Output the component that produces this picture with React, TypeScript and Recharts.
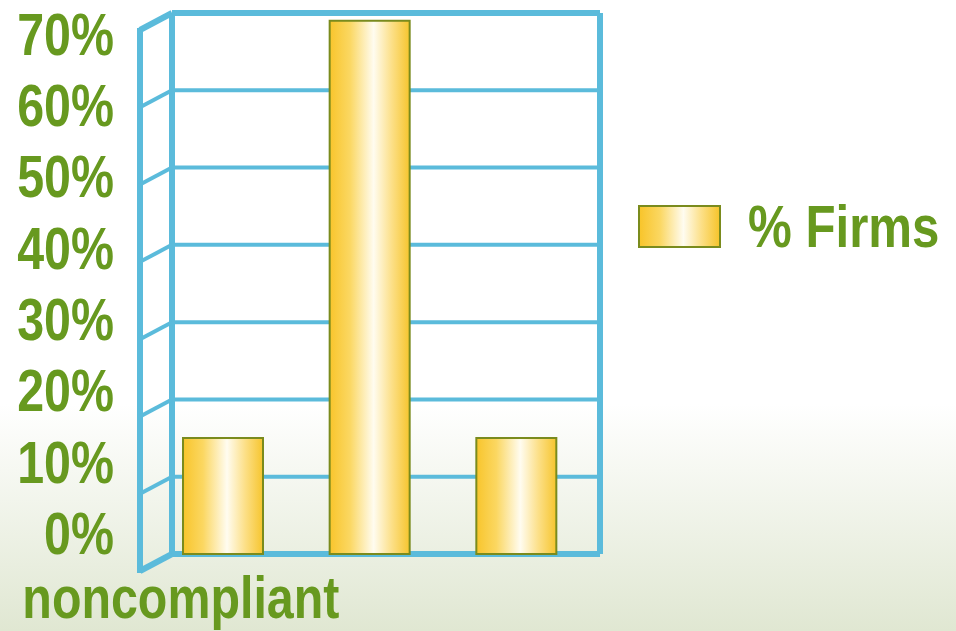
import { BarChart, Bar, XAxis, YAxis, CartesianGrid, Legend } from 'recharts';

// only the first category label is visible in the source picture
const categories = ['noncompliant', 'partially compliant', 'compliant'];
const firms = [15, 69, 15];
const yTicks = [0, 10, 20, 30, 40, 50, 60, 70];
const seriesName = '% Firms';

const data = categories.map((name, i) => ({ name, firms: firms[i] }));

const TEXT = '#67991f';
const FRAME = '#5bbbdb';
const BAR_EDGE = '#7a8b1d';
const FONT = '"Liberation Sans", Arial, sans-serif';

// layout of the pseudo-3d frame
const PLOT_TOP = 13;
const PLOT_BOTTOM = 554;
const BACK_X = 172;
const RIGHT_X = 600;
const FRONT_X = 140;
const DEPTH = 17;
const LEGEND_W = 318;

const YTick = (props: any) => {
  const { y, payload } = props;
  const v = payload.value;
  // labels sit on a slightly tighter pitch than the back wall grid
  const labelY = 33.5 + (y - PLOT_TOP) * 0.923;
  const edge = v === 0 || v === 70;
  return (
    <g>
      <line x1={FRONT_X} y1={y + DEPTH} x2={BACK_X} y2={y} stroke={FRAME} strokeWidth={edge ? 6 : 4} />
      {v === 0 && (
        <line
          x1={FRONT_X}
          y1={y + DEPTH + 2}
          x2={FRONT_X}
          y2={PLOT_TOP + DEPTH - 2}
          stroke={FRAME}
          strokeWidth={6}
        />
      )}
      <text
        transform={`translate(114,${labelY + 21}) scale(0.82,1)`}
        textAnchor="end"
        fill={TEXT}
        fontSize={59}
        fontWeight="bold"
        fontFamily={FONT}
      >
        {`${v}%`}
      </text>
    </g>
  );
};

const XTick = (props: any) => {
  const { x, payload, index } = props;
  if (index !== 0) return <g />;
  return (
    <text
      transform={`translate(${x - 201},618) scale(0.82,1)`}
      textAnchor="start"
      fill={TEXT}
      fontSize={59}
      fontWeight="bold"
      fontFamily={FONT}
    >
      {payload.value}
    </text>
  );
};

const renderLegend = () => (
  <div style={{ display: 'flex', alignItems: 'center', height: 45 }}>
    <div
      style={{
        flex: '0 0 83px',
        width: 83,
        height: 43,
        boxSizing: 'border-box',
        border: `2px solid ${BAR_EDGE}`,
        background:
          'linear-gradient(to right, #f8c52c 0%, #fbd761 25%, #fffcf0 55%, #fcdf86 78%, #f6c52e 100%)',
      }}
    />
    <span
      style={{
        marginLeft: 27,
        fontSize: 60,
        lineHeight: '45px',
        fontWeight: 'bold',
        fontFamily: FONT,
        color: TEXT,
        whiteSpace: 'nowrap',
        display: 'inline-block',
        transform: 'scaleX(0.82)',
        transformOrigin: 'left center',
      }}
    >
      {seriesName}
    </span>
  </div>
);

export default function App() {
  return (
    <div
      style={{
        position: 'absolute',
        left: 0,
        top: 0,
        width: 956,
        height: 631,
        background: 'linear-gradient(to bottom, #ffffff 0%, #ffffff 64%, #e0e7d2 100%)',
      }}
    >
      <BarChart
        width={956}
        height={631}
        data={data}
        // the legend's width is added to the right offset by recharts
        margin={{ top: PLOT_TOP, right: 956 - RIGHT_X - LEGEND_W, bottom: 17, left: 72 }}
      >
        <defs>
          <linearGradient id="barGrad" x1="0" y1="0" x2="1" y2="0">
            <stop offset="0%" stopColor="#f8c52c" />
            <stop offset="25%" stopColor="#fbd761" />
            <stop offset="55%" stopColor="#fffcf0" />
            <stop offset="78%" stopColor="#fcdf86" />
            <stop offset="100%" stopColor="#f6c52e" />
          </linearGradient>
        </defs>
        <CartesianGrid vertical={false} stroke={FRAME} strokeWidth={4} />
        <CartesianGrid
          horizontalPoints={[PLOT_TOP, PLOT_BOTTOM]}
          verticalPoints={[BACK_X, RIGHT_X]}
          stroke={FRAME}
          strokeWidth={6}
        />
        <XAxis
          dataKey="name"
          height={60}
          axisLine={false}
          tickLine={false}
          padding={{ left: -22, right: 10 }}
          tick={<XTick />}
          interval={0}
        />
        <YAxis
          width={100}
          domain={[0, 70]}
          ticks={yTicks}
          axisLine={false}
          tickLine={false}
          tick={<YTick />}
        />
        <Legend
          layout="horizontal"
          verticalAlign="middle"
          align="right"
          wrapperStyle={{ left: 638, top: 204, width: LEGEND_W, height: 45 }}
          content={renderLegend}
        />
        <Bar
          dataKey="firms"
          name={seriesName}
          fill="url(#barGrad)"
          stroke={BAR_EDGE}
          strokeWidth={2}
          barSize={80}
          isAnimationActive={false}
        />
      </BarChart>
    </div>
  );
}
